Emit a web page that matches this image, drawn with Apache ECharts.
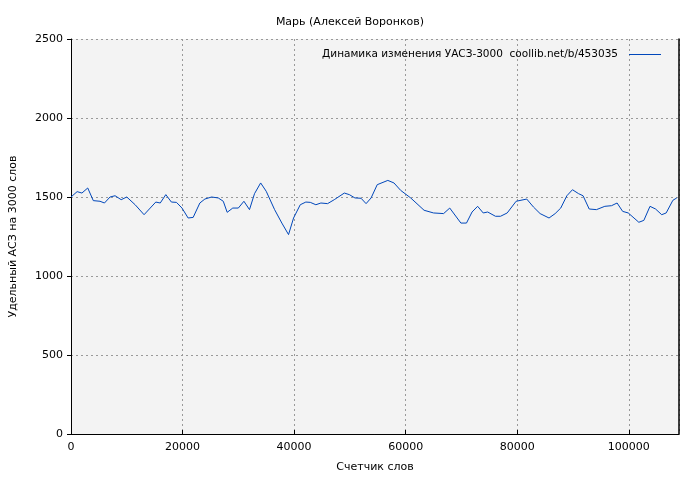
<!DOCTYPE html>
<html><head><meta charset="utf-8">
<script src="https://cdn.jsdelivr.net/npm/echarts@6/dist/echarts.min.js"></script>
<style>html,body{margin:0;background:#fff}#c{width:700px;height:480px}</style>
</head><body><div id="c"></div>
<script>
const words=[0,1100,1960,3000,4000,5200,6000,7000,7900,9000,10000,11500,13100,14200,15200,16000,17000,18000,18900,19900,21000,21900,23100,24000,25200,26400,27300,28000,29000,30000,31000,32000,32900,34000,35000,36500,37800,39000,39900,41100,42100,42900,43900,44800,46000,47200,49000,49900,50900,52000,52900,53800,54900,56800,57900,59100,60900,63300,65000,66800,67900,69900,70900,71900,72900,73900,74700,76100,77000,78200,79800,81700,82900,84100,85700,86800,87800,88900,89900,91000,91800,92900,94200,95700,96900,97900,98900,99900,101800,102700,103800,104800,105900,106700,107900,108600];
const vals=[1500,1534,1525,1557,1477,1473,1462,1500,1508,1483,1500,1451,1388,1430,1468,1462,1515,1468,1466,1430,1367,1371,1462,1487,1500,1494,1473,1403,1430,1430,1473,1420,1521,1589,1536,1420,1335,1262,1367,1451,1468,1466,1451,1462,1458,1483,1525,1515,1494,1492,1458,1494,1578,1605,1589,1542,1494,1416,1399,1395,1430,1335,1335,1405,1441,1399,1405,1378,1378,1399,1473,1487,1437,1395,1367,1395,1430,1508,1546,1521,1508,1424,1420,1441,1445,1462,1409,1399,1340,1352,1441,1424,1388,1399,1479,1494];
const title='Марь (Алексей Воронков)';
const seriesName='Динамика изменения УАСЗ-3000  coollib.net/b/453035';
const F='DejaVu Sans';
const chart=echarts.init(document.getElementById('c'));
const lab={fontFamily:F,fontSize:11,color:'#000',formatter:v=>String(v)};
chart.setOption({
 animation:false,
 title:{text:title,left:'center',top:12,textStyle:{fontFamily:F,fontSize:11,fontWeight:'normal',color:'#000'}},
 legend:{right:34,top:44,align:'right',itemWidth:32,itemHeight:1,icon:'rect',itemGap:0,textStyle:{fontFamily:F,fontSize:10.5,color:'#000',padding:[0,6,0,0]},data:[seriesName]},
 grid:{left:69,right:21,top:39,bottom:46,backgroundColor:'#f3f3f3',show:true,borderWidth:0},
 xAxis:{type:'value',min:0,max:109000,interval:20000,
  name:'Счетчик слов',nameLocation:'middle',nameGap:28,nameTextStyle:{fontFamily:F,fontSize:11,color:'#000'},
  axisLine:{lineStyle:{color:'#000'}},axisTick:{inside:true,length:4,lineStyle:{color:'#000'}},
  axisLabel:Object.assign({showMaxLabel:false},lab),
  splitLine:{show:true,lineStyle:{color:'#999',type:[2,3]}}},
 yAxis:[{type:'value',min:0,max:2500,interval:500,
  name:'Удельный АСЗ на 3000 слов',nameLocation:'middle',nameGap:52,nameTextStyle:{fontFamily:F,fontSize:11,color:'#000'},
  axisLine:{show:true,lineStyle:{color:'#000'}},axisTick:{show:true,length:4,lineStyle:{color:'#000'}},
  axisLabel:lab,
  splitLine:{show:true,lineStyle:{color:'#999',type:[2,3]}}},
  {type:'value',min:0,max:2500,interval:500,position:'right',axisLine:{show:true,lineStyle:{color:'#000',width:1.5}},axisTick:{show:false},axisLabel:{show:false},splitLine:{show:false}}],
 series:[{name:seriesName,type:'line',showSymbol:false,data:words.map((w,i)=>[w,vals[i]]),lineStyle:{color:'#0047bb',width:1},itemStyle:{color:'#0047bb'}}]
});
</script></body></html>
